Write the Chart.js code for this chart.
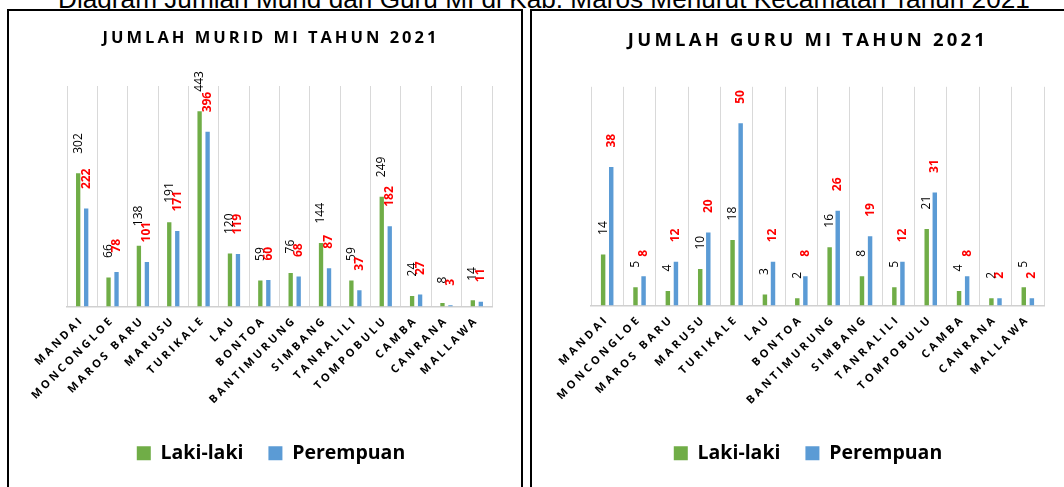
<!DOCTYPE html>
<html>
<head>
<meta charset="utf-8">
<script src="https://cdn.jsdelivr.net/npm/chart.js@4"></script>
<style>
  body { margin: 0; width: 1064px; height: 487px; overflow: hidden; background: #fff; position: relative; }
  #judul { position: absolute; left: 58px; top: -16px; font: 26.2px/30px "Liberation Sans", Arial, sans-serif; white-space: nowrap; color: #000; z-index: 0; }
  .kotak { position: absolute; top: 9px; height: 500px; border: 2px solid #000; background: #fff; box-sizing: border-box; z-index: 1; }
  #kotak1 { left: 7px; width: 516px; }
  #kotak2 { left: 530px; width: 600px; border-right: none; }
  canvas { position: absolute; left: 0; top: 0; }
</style>
</head>
<body>
<div id="judul">Diagram Jumlah Murid dan Guru MI di Kab. Maros Menurut Kecamatan Tahun 2021</div>
<div class="kotak" id="kotak1"><canvas id="chartMurid" width="512" height="476"></canvas></div>
<div class="kotak" id="kotak2"><canvas id="chartGuru" width="550" height="476"></canvas></div>
<script>
// data per kecamatan
const kecamatan = ['MANDAI', 'MONCONGLOE', 'MAROS BARU', 'MARUSU', 'TURIKALE', 'LAU', 'BONTOA',
    'BANTIMURUNG', 'SIMBANG', 'TANRALILI', 'TOMPOBULU', 'CAMBA', 'CANRANA', 'MALLAWA'];
const muridLaki = [302, 66, 138, 191, 443, 120, 59, 76, 144, 59, 249, 24, 8, 14];
const muridPerempuan = [222, 78, 101, 171, 396, 119, 60, 68, 87, 37, 182, 27, 3, 11];
const guruLaki = [14, 5, 4, 10, 18, 3, 2, 16, 8, 5, 21, 4, 2, 5];
const guruPerempuan = [38, 8, 12, 20, 50, 12, 8, 26, 19, 12, 31, 8, 2, 2];

const hijau = '#70ad47';
const biru = '#5b9bd5';
const fontUtama = '"Open Sans", "Liberation Sans", sans-serif';

// spasi huruf untuk judul & label sumbu (legend tanpa spasi)
const spasiHuruf = {
    id: 'spasiHuruf',
    beforeLayout(chart, args, opts) {
        const leg = chart.legend;
        if (leg && !leg._tanpaSpasi) {
            const upd = leg.update.bind(leg);
            const drw = leg.draw.bind(leg);
            leg.update = function () {
                const s = chart.ctx.letterSpacing;
                chart.ctx.letterSpacing = '0px';
                upd.apply(null, arguments);
                chart.ctx.letterSpacing = s;
            };
            leg.draw = function () {
                const s = chart.ctx.letterSpacing;
                chart.ctx.letterSpacing = '0px';
                drw.apply(null, arguments);
                chart.ctx.letterSpacing = s;
            };
            leg._tanpaSpasi = true;
        }
        chart.ctx.letterSpacing = opts.px + 'px';
    },
    beforeDraw(chart, args, opts) {
        chart.ctx.letterSpacing = opts.px + 'px';
    },
    afterDraw(chart) {
        chart.ctx.letterSpacing = '0px';
    }
};

// label nilai tegak di atas batang
const labelBatang = {
    id: 'labelBatang',
    afterDatasetsDraw(chart, args, opts) {
        const ctx = chart.ctx;
        ctx.save();
        ctx.letterSpacing = '0px';
        chart.data.datasets.forEach((ds, i) => {
            const meta = chart.getDatasetMeta(i);
            ctx.font = ds.labelWeight + ' 12px ' + fontUtama;
            ctx.fillStyle = ds.labelColor;
            ctx.textAlign = 'left';
            ctx.textBaseline = 'middle';
            meta.data.forEach((bar, j) => {
                ctx.save();
                ctx.translate(bar.x, bar.y - opts.jarak);
                ctx.rotate(-Math.PI / 2);
                ctx.fillText(String(ds.data[j]), 0, 0);
                ctx.restore();
            });
        });
        ctx.restore();
    }
};

function buatChart(id, judul, laki, perempuan, cfg) {
    const ctx = document.getElementById(id).getContext('2d');
    return new Chart(ctx, {
        type: 'bar',
        data: {
            labels: kecamatan,
            datasets: [{
                label: 'Laki-laki',
                data: laki,
                backgroundColor: hijau,
                labelColor: '#000',
                labelWeight: 'normal',
                barPercentage: cfg.barPct,
                categoryPercentage: cfg.catPct
            }, {
                label: 'Perempuan',
                data: perempuan,
                backgroundColor: biru,
                labelColor: '#ff0000',
                labelWeight: 'bold',
                barPercentage: cfg.barPct,
                categoryPercentage: cfg.catPct
            }]
        },
        options: {
            responsive: false,
            animation: false,
            layout: { padding: { left: cfg.padL, right: cfg.padR, top: 0, bottom: 14 } },
            scales: {
                x: {
                    grid: { color: '#d9d9d9', lineWidth: 1, drawTicks: false },
                    border: { color: '#d0d0d0', width: 1.5 },
                    ticks: {
                        autoSkip: false,
                        maxRotation: 45,
                        minRotation: 45,
                        padding: 7,
                        color: '#000',
                        font: { family: fontUtama, size: 11, weight: 'bold' }
                    },
                    afterFit: (scale) => { scale.height = cfg.tinggiX; }
                },
                y: {
                    min: 0,
                    max: cfg.maxY,
                    grid: { display: false },
                    border: { display: false },
                    ticks: { display: false },
                    afterFit: (scale) => { scale.width = cfg.lebarY; }
                }
            },
            plugins: {
                spasiHuruf: { px: cfg.spasi },
                labelBatang: { jarak: 19.5 },
                tooltip: { enabled: false },
                title: {
                    display: true,
                    text: judul,
                    color: '#000',
                    font: { family: fontUtama, size: cfg.ukuranJudul, weight: 'bold' },
                    padding: { top: cfg.judulAtas, bottom: cfg.judulBawah }
                },
                legend: {
                    position: 'bottom',
                    labels: {
                        boxWidth: 14,
                        boxHeight: 14,
                        padding: 25,
                        color: '#000',
                        font: { family: fontUtama, size: 19.5, weight: 'bold' }
                    }
                }
            }
        },
        plugins: [spasiHuruf, labelBatang]
    });
}

buatChart('chartMurid', 'JUMLAH MURID MI TAHUN 2021', muridLaki, muridPerempuan, {
    maxY: 500, padL: 41, padR: 29, lebarY: 17, tinggiX: 112,
    ukuranJudul: 16.5, judulAtas: 17, judulBawah: 38.2, spasi: 3,
    barPct: 0.54, catPct: 0.527
});

buatChart('chartGuru', 'JUMLAH GURU MI TAHUN 2021', guruLaki, guruPerempuan, {
    maxY: 60, padL: 40, padR: 38, lebarY: 19, tinggiX: 113,
    ukuranJudul: 18.5, judulAtas: 18.6, judulBawah: 35, spasi: 3.2,
    barPct: 0.55, catPct: 0.5
});
</script>
</body>
</html>
